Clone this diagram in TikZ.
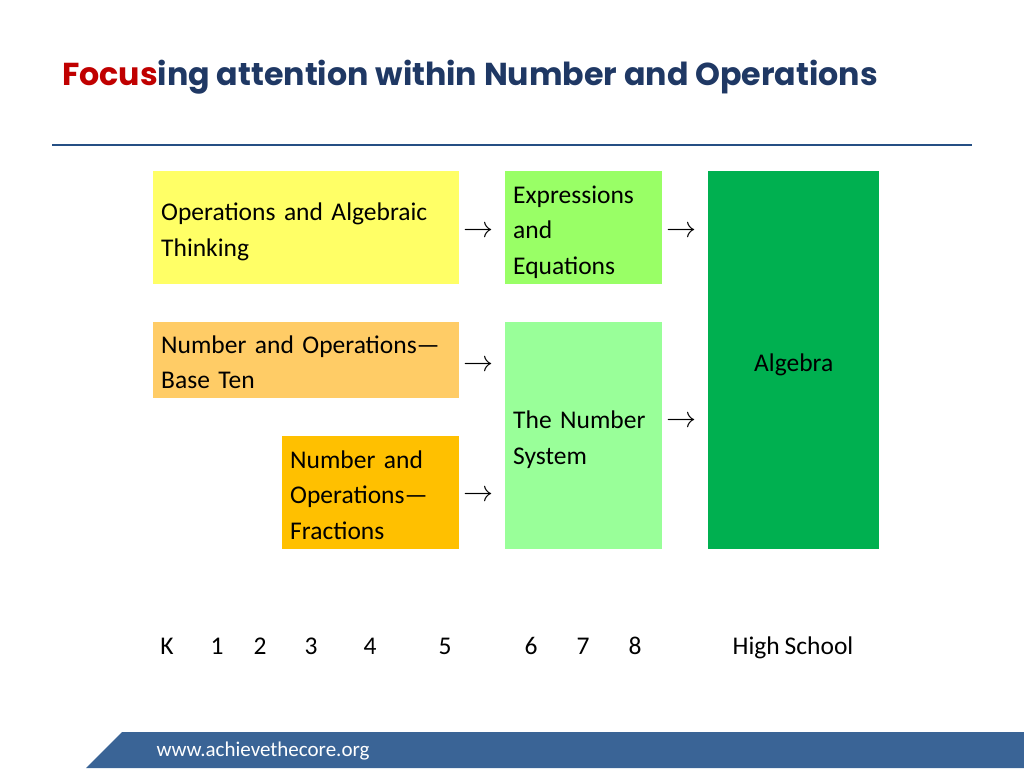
\documentclass[tikz,border=0pt]{standalone}
\usepackage{fontspec}
\setmainfont{Carlito}[WordSpace=0.85]
\newfontfamily\titlefont{Poppins}
\newfontfamily\arrowfont{Latin Modern Math}
\usepackage{xcolor}
\definecolor{focusred}{HTML}{C00000}
\definecolor{titleblue}{HTML}{1F3864}
\definecolor{ruleblue}{HTML}{254F84}
\definecolor{footblue}{HTML}{3A6496}
\definecolor{oatcol}{HTML}{FFFF66}
\definecolor{nbtcol}{HTML}{FFCC66}
\definecolor{nfcol}{HTML}{FFC000}
\definecolor{eecol}{HTML}{99FF66}
\definecolor{nscol}{HTML}{99FF99}
\definecolor{algcol}{HTML}{00B050}

\begin{document}
\begin{tikzpicture}[x=1pt,y=-1pt,
box/.style={rectangle,inner xsep=8pt,inner ysep=0pt,anchor=north west,align=left,font=\fontsize{25.5}{35.5}\selectfont,
 execute at begin node=\rule{0pt}{28pt},execute at end node=\rule[-6pt]{0pt}{0pt}},
arr/.style={inner sep=0pt,font=\arrowfont\fontsize{30}{32}\selectfont},
grade/.style={anchor=base,inner sep=0pt,font=\fontsize{25.5}{30}\selectfont}]
\useasboundingbox(0,0)rectangle(1024,768);
\node[anchor=base west,inner sep=0pt,text=titleblue,font=\titlefont\bfseries\fontsize{31.7}{38}\selectfont](title) at(62,85){\textcolor{focusred}{Focus}ing attention within Number and Operations};
\draw[ruleblue,line width=2pt](52,145)--(972,145);
\node[box,fill=oatcol,minimum width=306pt,minimum height=113pt,text width=290pt](oat) at(153,171){Operations and Algebraic\\Thinking};
\node[box,fill=nbtcol,minimum width=306pt,minimum height=76pt,text width=290pt](nbt) at(153,322){Number and Operations---\\Base Ten};
\node[box,fill=nfcol,minimum width=177pt,minimum height=113pt,text width=161pt](nf) at(282,436){Number and\\Operations---\\Fractions};
\node[box,fill=eecol,minimum width=157pt,minimum height=113pt,text width=141pt](ee) at(505,171){Expressions\\and\\Equations};
\node[box,fill=nscol,minimum width=157pt,minimum height=227pt,text width=141pt](ns) at(505,322){The Number\\System};
\node[box,fill=algcol,align=center,minimum width=171pt,minimum height=378pt,text width=155pt](alg) at(708,171){Algebra};
\node[arr](oatee) at(478,230){→};
\node[arr](nbtns) at(478,364){→};
\node[arr](nfns) at(478,494){→};
\node[arr](eealg) at(681,230){→};
\node[arr](nsalg) at(681,420){→};
\node[grade](gk) at(167,654){K};\node[grade](g1) at(217,654){1};
\node[grade](g2) at(260,654){2};\node[grade](g3) at(311,654){3};
\node[grade](g4) at(370,654){4};\node[grade](g5) at(445,654){5};
\node[grade](g6) at(531,654){6};\node[grade](g7) at(583,654){7};
\node[grade](g8) at(635,654){8};\node[grade](ghs) at(793,654){High School};
\fill[footblue](86,768)--(122,732)--(1024,732)--(1024,768)--cycle;
\node[text=white,font=\fontsize{21}{25}\selectfont](web) at(263,751){www.achievethecore.org};
\end{tikzpicture}
\end{document}
